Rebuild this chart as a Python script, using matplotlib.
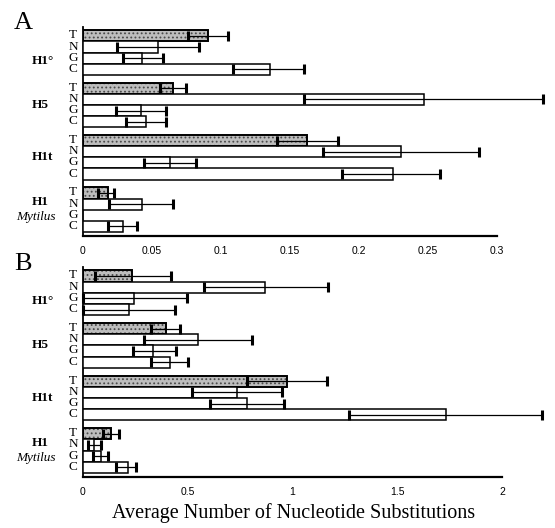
import matplotlib
matplotlib.use("Agg")
import matplotlib.pyplot as plt
import matplotlib.transforms as mtransforms
import numpy as np

# ---------------- data ----------------
groups = ["H1\u00b0", "H5", "H1t", "H1"]
group_sub = ["", "", "", "Mytilus"]
rows = ["T", "N", "G", "C"]

# Panel A values (per group: T, N, G, C)
a_vals = [[0.0906, 0.054, 0.043, 0.1355],
          [0.0655, 0.247, 0.042, 0.046],
          [0.162, 0.2305, 0.063, 0.2245],
          [0.018, 0.043, 0.0, 0.029]]
a_lo = [[0.076, 0.0246, 0.029, 0.109],
        [0.0556, 0.160, 0.024, 0.031],
        [0.1405, 0.174, 0.044, 0.188],
        [0.011, 0.019, 0.0, 0.018]]
a_hi = [[0.105, 0.084, 0.058, 0.160],
        [0.0745, 0.333, 0.0605, 0.0605],
        [0.185, 0.287, 0.082, 0.259],
        [0.0227, 0.065, 0.0, 0.039]]
a_ticks = [0, 0.05, 0.1, 0.15, 0.2, 0.25, 0.3]
a_ticklabels = ["0", "0.05", "0.1", "0.15", "0.2", "0.25", "0.3"]

# Panel B values
b_vals = [[0.237, 0.87, 0.246, 0.222],
          [0.397, 0.551, 0.338, 0.417],
          [0.973, 0.737, 0.784, 1.735],
          [0.136, 0.055, 0.088, 0.216]]
b_lo = [[0.061, 0.58, 0.0, 0.0],
        [0.325, 0.294, 0.243, 0.325],
        [0.784, 0.52, 0.607, 1.27],
        [0.10, 0.027, 0.05, 0.16]]
b_hi = [[0.42, 1.17, 0.497, 0.44],
        [0.464, 0.81, 0.444, 0.502],
        [1.166, 0.95, 0.962, 2.19],
        [0.174, 0.088, 0.12, 0.254]]
b_ticks = [0, 0.5, 1, 1.5, 2]
b_ticklabels = ["0", "0.5", "1", "1.5", "2"]

xlabel = "Average Number of Nucleotide Substitutions"

# ---------------- style ----------------
W, H = 555, 528
DPI = 100
SERIF = ["Liberation Serif", "DejaVu Serif"]
SANS = ["Liberation Sans", "DejaVu Sans"]
plt.rcParams["hatch.linewidth"] = 0.8

fig = plt.figure(figsize=(W / DPI, H / DPI), dpi=DPI)
fig.patch.set_facecolor("white")

GAP = 0.7
label_dy = [0.75, 0.0, 0.0, 0.0]  # fine positioning of group labels


def px_axes(left, right, top, bottom):
    return fig.add_axes([left / W, 1 - bottom / H, (right - left) / W, (bottom - top) / H])


def draw_panel(ax, vals, lo, hi, xmax, ticks, ticklabels):
    vals = np.array(vals)
    lo = np.array(lo)
    hi = np.array(hi)
    for g in range(4):
        for r in range(4):
            y = g * (4 + GAP) + r + 0.5
            v = vals[g, r]
            if r == 0:
                ax.barh(y, v, height=1.0, left=0, color="#bdbdbd", hatch="....",
                        edgecolor="#4a4a4a", linewidth=0, zorder=2)
                ax.barh(y, v, height=1.0, left=0, fill=False,
                        edgecolor="black", linewidth=1.4, zorder=3)
            else:
                if v > 0:
                    ax.barh(y, v, height=1.0, left=0, color="white",
                            edgecolor="black", linewidth=1.1, zorder=3)
            if hi[g, r] > 0:
                eb = ax.errorbar(v, y, xerr=[[v - lo[g, r]], [hi[g, r] - v]], fmt="none",
                                 ecolor="black", elinewidth=0.9, capsize=3.5, capthick=2.2,
                                 zorder=4)
                for art in eb.get_children():
                    art.set_clip_on(False)
    ax.set_xlim(0, xmax)
    ax.set_ylim(4 * 4 + 3 * GAP + 0.36, -0.3)
    for s in ["top", "right"]:
        ax.spines[s].set_visible(False)
    ax.spines["left"].set_linewidth(1.3)
    ax.spines["bottom"].set_linewidth(1.6)
    ax.set_yticks([])
    ax.set_xticks(ticks)
    ax.set_xticklabels(ticklabels, fontfamily=SANS, fontsize=7.5)
    ax.tick_params(axis="x", length=0, pad=7)
    ax.set_facecolor("none")

    trans_left = mtransforms.blended_transform_factory(ax.transAxes, ax.transData)
    x0 = ax.get_position().x0 * W
    letter_tr = mtransforms.offset_copy(trans_left, fig=fig, x=-(x0 - 73), y=0.5, units="dots")
    glab_tr = mtransforms.offset_copy(trans_left, fig=fig, x=-(x0 - 32), y=0, units="dots")
    sub_tr = mtransforms.offset_copy(trans_left, fig=fig, x=-(x0 - 36), y=0, units="dots")
    for g in range(4):
        for r in range(4):
            y = g * (4 + GAP) + r + 0.5
            ax.text(0, y, rows[r], transform=letter_tr, ha="center", va="center",
                    fontfamily=SERIF, fontsize=9.5, clip_on=False)
        yc = g * (4 + GAP) + 2.0 + label_dy[g]
        if group_sub[g]:
            ax.text(0, yc - 0.7, groups[g], transform=glab_tr, ha="left", va="center",
                    fontfamily=SERIF, fontsize=9.5, fontweight="bold")
            ax.text(0, yc + 0.65, group_sub[g], transform=sub_tr, ha="center", va="center",
                    fontfamily=SERIF, fontsize=9.5, fontstyle="italic")
        else:
            ax.text(0, yc, groups[g], transform=glab_tr, ha="left", va="center",
                    fontfamily=SERIF, fontsize=9.5, fontweight="bold")


axA = px_axes(83, 497, 27, 236)
draw_panel(axA, a_vals, a_lo, a_hi, 0.3, a_ticks, a_ticklabels)
axB = px_axes(82.5, 502, 267, 477)
draw_panel(axB, b_vals, b_lo, b_hi, 2.0, b_ticks, b_ticklabels)

fig.text(14 / W, 1 - 23 / H, "A", fontfamily=SERIF, fontsize=19, ha="left", va="center")
fig.text(14 / W, 1 - 264 / H, "B", fontfamily=SERIF, fontsize=19, ha="left", va="center")
fig.text(294 / W, 1 - 513 / H, xlabel, fontfamily=SERIF, fontsize=14.5,
         ha="center", va="center")

fig.savefig("out.png", dpi=DPI, facecolor="white")
